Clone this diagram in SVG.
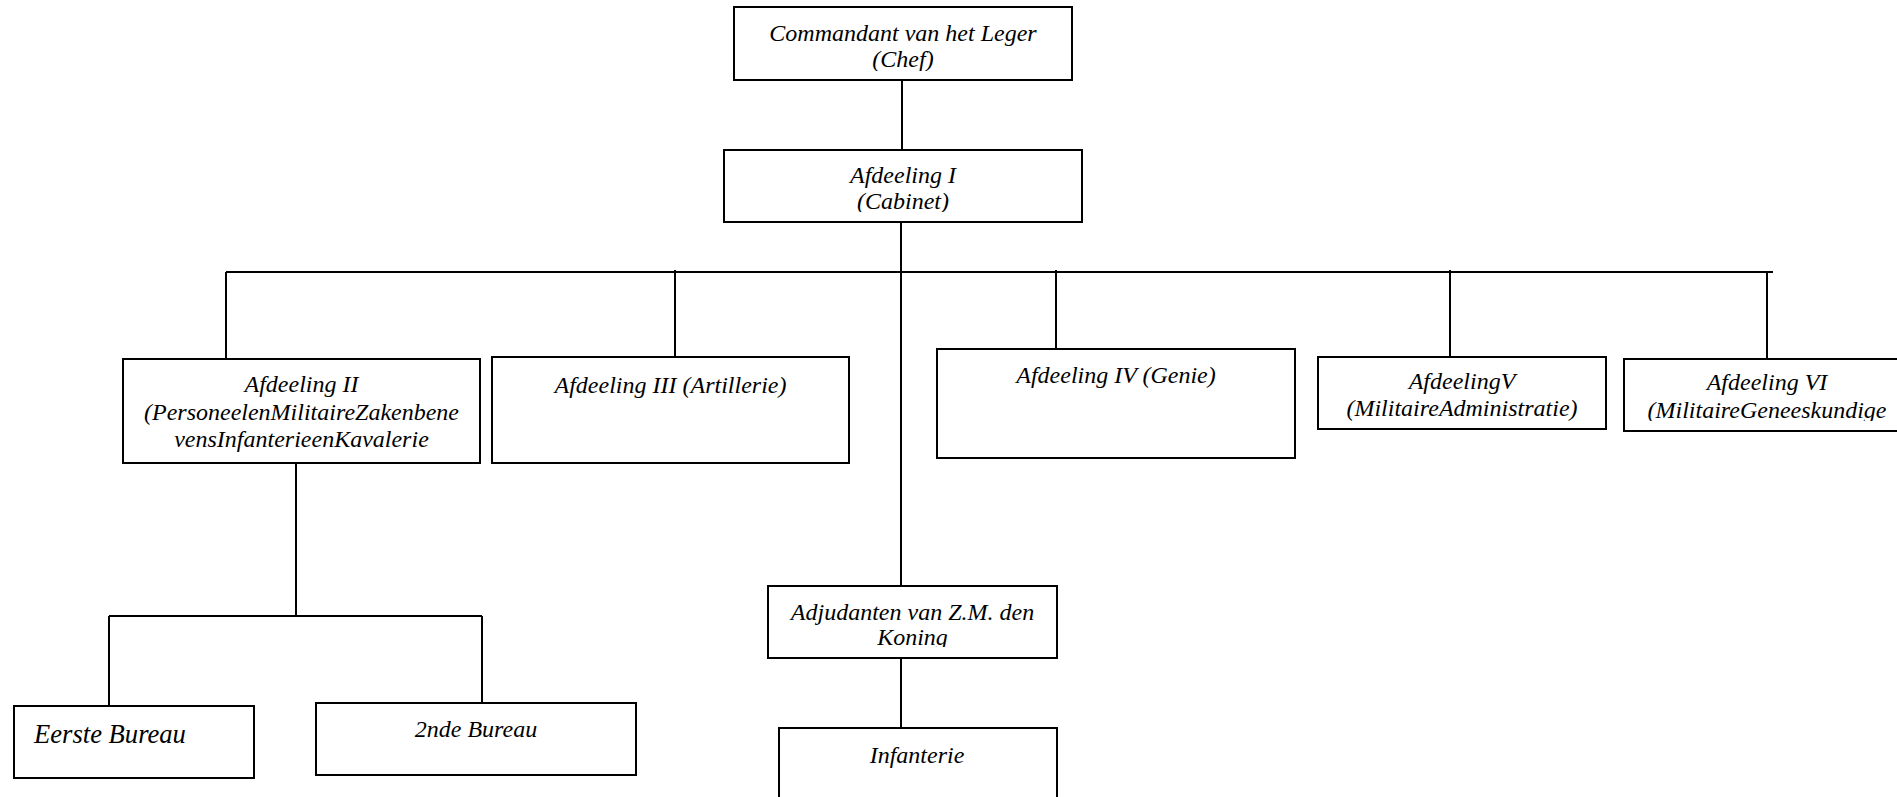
<svg xmlns="http://www.w3.org/2000/svg" width="1897" height="797" viewBox="0 0 1897 797">
<style>
.box{fill:#fff;stroke:#000;stroke-width:2}
.lbl{font-family:"Liberation Serif","Times New Roman",serif;font-style:italic;font-size:24px;fill:#000;text-anchor:middle}
.conn line{stroke:#000;stroke-width:2;fill:none}
</style>
<defs>
<clipPath id="cpCmd"><rect x="734" y="7" width="338" height="64"/></clipPath>
<clipPath id="cpA1"><rect x="724" y="150" width="358" height="62"/></clipPath>
<clipPath id="cpA6"><rect x="1624" y="359" width="290" height="62"/></clipPath>
<clipPath id="cpAdj"><rect x="768" y="586" width="289" height="61"/></clipPath>
</defs>
<rect x="0" y="0" width="1897" height="797" fill="#fff"/>
<g id="connectors" class="conn">
<line x1="902" y1="80" x2="902" y2="150"/>
<line x1="901" y1="222" x2="901" y2="586"/>
<line x1="226" y1="272" x2="1773" y2="272"/>
<line x1="226" y1="272" x2="226" y2="359"/>
<line x1="675" y1="270" x2="675" y2="357"/>
<line x1="1056" y1="270" x2="1056" y2="349"/>
<line x1="1450" y1="270" x2="1450" y2="357"/>
<line x1="1767" y1="272" x2="1767" y2="359"/>
<line x1="296" y1="463" x2="296" y2="616"/>
<line x1="109" y1="616" x2="482" y2="616"/>
<line x1="109" y1="616" x2="109" y2="706"/>
<line x1="482" y1="616" x2="482" y2="703"/>
<line x1="901" y1="658" x2="901" y2="728"/>
</g>
<g id="commandant">
<rect class="box" x="734" y="7" width="338" height="73"/>
<g clip-path="url(#cpCmd)">
<text class="lbl" x="903" y="41">Commandant van het Leger</text>
<text class="lbl" x="903" y="67">(Chef)</text>
</g>
</g>
<g id="afdeeling1">
<rect class="box" x="724" y="150" width="358" height="72"/>
<g clip-path="url(#cpA1)">
<text class="lbl" x="903" y="183">Afdeeling I</text>
<text class="lbl" x="903" y="209">(Cabinet)</text>
</g>
</g>
<g id="afdeeling2">
<rect class="box" x="123" y="359" width="357" height="104"/>
<text class="lbl" x="301.5" y="392">Afdeeling II</text>
<text class="lbl" x="301.5" y="420">(PersoneelenMilitaireZakenbene</text>
<text class="lbl" x="301.5" y="447">vensInfanterieenKavalerie</text>
</g>
<g id="afdeeling3">
<rect class="box" x="492" y="357" width="357" height="106"/>
<text class="lbl" x="670.5" y="393">Afdeeling III (Artillerie)</text>
</g>
<g id="afdeeling4">
<rect class="box" x="937" y="349" width="358" height="109"/>
<text class="lbl" x="1116" y="383">Afdeeling IV (Genie)</text>
</g>
<g id="afdeeling5">
<rect class="box" x="1318" y="357" width="288" height="72"/>
<text class="lbl" x="1462" y="389">AfdeelingV</text>
<text class="lbl" x="1462" y="416">(MilitaireAdministratie)</text>
</g>
<g id="afdeeling6">
<rect class="box" x="1624" y="359" width="290" height="72"/>
<g clip-path="url(#cpA6)">
<text class="lbl" x="1767" y="390">Afdeeling VI</text>
<text class="lbl" x="1767" y="418">(MilitaireGeneeskundige</text>
</g>
</g>
<g id="adjudanten">
<rect class="box" x="768" y="586" width="289" height="72"/>
<g clip-path="url(#cpAdj)">
<text class="lbl" x="912.5" y="620">Adjudanten van Z.M. den</text>
<text class="lbl" x="912.5" y="645">Koning</text>
</g>
</g>
<g id="infanterie">
<rect class="box" x="779" y="728" width="278" height="100"/>
<text class="lbl" x="917" y="763">Infanterie</text>
</g>
<g id="eerste-bureau">
<rect class="box" x="14" y="706" width="240" height="72"/>
<text class="lbl" x="34" y="743" style="text-anchor:start;font-size:26.6px">Eerste Bureau</text>
</g>
<g id="tweede-bureau">
<rect class="box" x="316" y="703" width="320" height="72"/>
<text class="lbl" x="476" y="737">2nde Bureau</text>
</g>
</svg>
